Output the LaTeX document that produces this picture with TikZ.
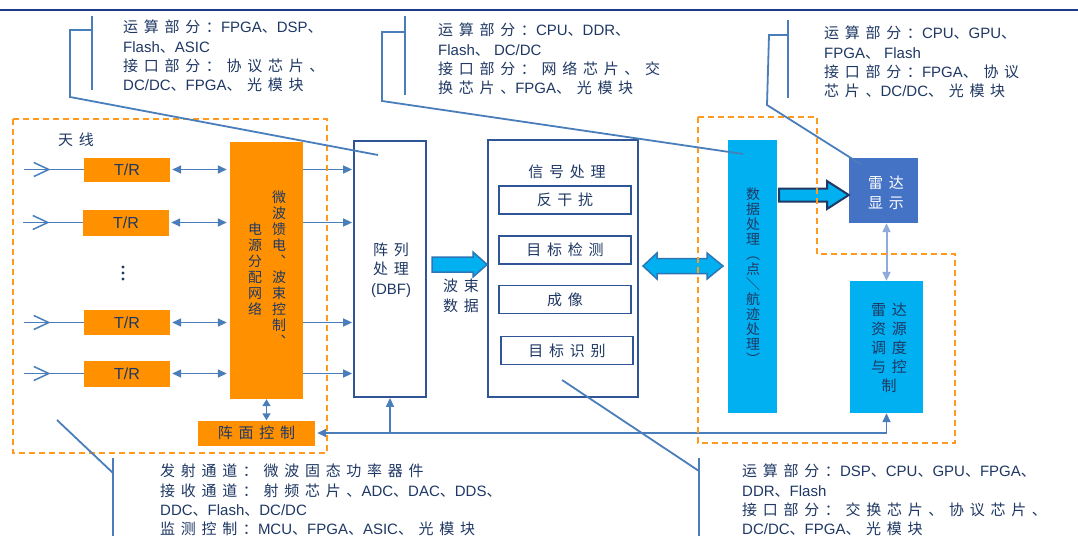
\documentclass[tikz,border=0pt]{standalone}
\usepackage{fontspec}
\setmainfont{Liberation Sans}
\newfontfamily\cjk{Noto Sans CJK SC}[Scale=1.0,LetterSpace=38]
\newfontfamily\cjkv{Noto Sans CJK SC}[Scale=0.93]
\newcommand\C[1]{{\cjk #1}}
\usetikzlibrary{arrows.meta,calc}
\definecolor{org}{HTML}{FF9000}
\definecolor{dorg}{HTML}{FF9A1F}
\definecolor{lblue}{HTML}{4A7EBB}
\definecolor{bord}{HTML}{2F5597}
\definecolor{cyanf}{HTML}{00B0F0}
\definecolor{dispf}{HTML}{4472C4}
\definecolor{txt}{HTML}{1F3864}
\definecolor{topline}{HTML}{1F3A8A}
\definecolor{pale}{HTML}{8FAADC}
\definecolor{arrb}{HTML}{2E75B6}
\definecolor{navy}{HTML}{203864}
\begin{document}
\begin{tikzpicture}[x=1pt,y=-1pt,>={Triangle[length=9pt,width=8pt]},
  conn/.style={draw=lblue,line width=1.5pt},
  callout/.style={draw=lblue,line width=1.8pt},
  orgbox/.style={fill=org,inner sep=0pt,text=txt},
  bluebox/.style={draw=bord,line width=1.8pt,fill=white,inner sep=0pt},
  subbox/.style={draw=bord,line width=1.5pt,minimum width=132pt,minimum height=28pt,inner sep=0pt,text=txt,font=\fontsize{15}{19}\selectfont},
  dashbox/.style={draw=dorg,line width=1.8pt,dash pattern=on 6pt off 4pt},
  ctext/.style={align=left,anchor=north west,inner sep=0pt,text=txt,font=\fontsize{15}{19.2}\selectfont},
  vtext/.style={align=center,inner sep=0pt,text=txt,font=\cjkv\fontsize{15}{16}\selectfont},
  btext/.style={align=center,inner sep=0pt,text=txt,font=\fontsize{15}{19.5}\selectfont},
  blockarrow/.style={fill=cyanf,draw=arrb,line width=1.5pt,line join=miter},
  dot/.style={circle,fill=txt,inner sep=0pt,minimum size=3.2pt}
]
\useasboundingbox (0,0) rectangle (1078,536);
\fill[white] (0,0) rectangle (1078,536);
\draw[draw=topline,line width=1.5pt] (0,10) -- (1078,10);

% ---------- left antenna part ----------
\node[btext] (ant) at (76,140) {\C{天线}};
\node[orgbox,minimum width=86pt,minimum height=24pt,font=\fontsize{16}{16}\selectfont] (tr1) at (127,169.5) {T/R};
\node[orgbox,minimum width=86pt,minimum height=26pt,font=\fontsize{16}{16}\selectfont] (tr2) at (126,222.5) {T/R};
\node[orgbox,minimum width=86pt,minimum height=25pt,font=\fontsize{16}{16}\selectfont] (tr3) at (127,322.5) {T/R};
\node[orgbox,minimum width=86pt,minimum height=26pt,font=\fontsize{16}{16}\selectfont] (tr4) at (127,373.5) {T/R};
\node[dot] (d1) at (123,267) {};
\node[dot] (d2) at (123,273) {};
\node[dot] (d3) at (123,279) {};

\node[orgbox,minimum width=73pt,minimum height=257pt] (feed) at (266.5,270.5) {};
\node[vtext] (feedR) at (279,269) {微\\波\\馈\\电\\︑\\波\\束\\控\\制\\︑};
\node[vtext] (feedL) at (255,269) {电\\源\\分\\配\\网\\络};

\node[orgbox,minimum width=117pt,minimum height=25pt,font=\fontsize{15}{15}\selectfont] (ctrl) at (256.5,433) {\C{阵面控制}};

\foreach \i in {1,2,3,4}{
  \coordinate (a\i) at ($(tr\i.west)+(-60,0)$);
  \draw[conn] (a\i) -- (tr\i.west);
  \draw[conn] ($(a\i)+(10,-7)$) -- ($(a\i)+(25,0)$) -- ($(a\i)+(10,7)$);
  \draw[conn,<->,shorten <=2pt,shorten >=3pt] (tr\i.east) -- (tr\i.east -| feed.west);
}

% ---------- DBF ----------
\node[bluebox,minimum width=72pt,minimum height=256pt] (dbf) at (390,269) {};
\node[btext] (dbft) at (391,270) {\C{阵列}\\\C{处理}\\(DBF)};
\foreach \i in {1,2,3,4}{
  \draw[conn,->,shorten >=1pt] (feed.east |- tr\i.east) -- (dbf.west |- tr\i.east);
}
\draw[conn,<->,>={Triangle[length=7pt,width=8pt]}] (feed.south) -- (feed.south |- ctrl.north);

% ---------- signal processing ----------
\node[bluebox,minimum width=150pt,minimum height=257pt] (sig) at (563,268.5) {};
\node[btext] (sigt) at (567,172) {\C{信号处理}};
\node[subbox] (s1) at (565,200) {\C{反干扰}};
\node[subbox] (s2) at (565,250) {\C{目标检测}};
\node[subbox] (s3) at (565,299.5) {\C{成像}};
\node[subbox] (s4) at (567,350.5) {\C{目标识别}};

\node[btext] (beam) at (461,296) {\C{波束}\\\C{数据}};
\draw[blockarrow] (432,257) -- (473,257) -- (473,252) -- (sig.west |- 0,264.5) -- (473,277) -- (473,272) -- (432,272) -- cycle;

% ---------- data processing ----------
\node[fill=cyanf,minimum width=49pt,minimum height=273pt,inner sep=0pt] (data) at (752.5,276.5) {};
\node[vtext,font=\cjkv\fontsize{15}{15}\selectfont] (datat) at (753,276) {数\\据\\处\\理\\︵\\点\\＼\\航\\迹\\处\\理\\︶};

\draw[blockarrow] (643,266) -- (657,253) -- (657,258.5) -- (707,258.5) -- (707,253) -- (723,266) -- (707,279) -- (707,273.5) -- (657,273.5) -- (657,279) -- cycle;

% ---------- display & resources ----------
\node[fill=dispf,minimum width=69pt,minimum height=65pt,inner sep=0pt] (dsp) at (883.5,190.5) {};
\node[btext,text=white,font=\fontsize{15}{20}\selectfont] (dspt) at (886,193) {\C{雷达}\\\C{显示}};
\node[fill=cyanf,minimum width=73pt,minimum height=132pt,inner sep=0pt] (res) at (886.5,347) {};
\node[btext,font=\fontsize{15}{19}\selectfont] (rest) at (889,348) {\C{雷达}\\\C{资源}\\\C{调度}\\\C{与控}\\\C{制}};

\draw[blockarrow,draw=navy,line width=2pt] (779,188.5) -- (827,188.5) -- (827,181) -- (dsp.west |- 0,195) -- (827,209) -- (827,201.5) -- (779,201.5) -- cycle;
\draw[draw=pale,line width=2pt,<->] (res.north |- dsp.south) -- (res.north);

% ---------- control line ----------
\draw[conn,<->,shorten <=2pt] (ctrl.east) -- (res.south |- ctrl.east) -- (res.south);
\draw[conn,->] (dbf.south |- ctrl.east) -- (dbf.south);

% ---------- dashed groups ----------
\draw[dashbox] (13,119) rectangle (327,453);
\draw[dashbox] (698,117) -- (817,117) -- (817,254) -- (955,254) -- (955,443) -- (698,443) -- cycle;

% ---------- callouts ----------
\draw[callout] (92,16) -- (92,90);
\draw[callout] (92,30) -- (70,30) -- (70,97) -- (378,155);
\node[ctext] (c1) at (123,20) {\C{运算部分：}FPGA\C{、}DSP\C{、}\\Flash\C{、}ASIC\\\C{接口部分：协议芯片、}\\DC/DC\C{、}FPGA\C{、光模块}};

\draw[callout] (405,16) -- (405,95);
\draw[callout] (405,32) -- (382,32) -- (382,101) -- (743,154);
\node[ctext] (c2) at (438,23) {\C{运算部分：}CPU\C{、}DDR\C{、}\\Flash\C{、} DC/DC\\\C{接口部分：网络芯片、交}\\\C{换芯片、}FPGA\C{、光模块}};

\draw[callout] (788,20) -- (788,98);
\draw[callout] (788,35) -- (769,35) -- (767,105) -- (862,165);
\node[ctext] (c3) at (824,26) {\C{运算部分：}CPU\C{、}GPU\C{、}\\FPGA\C{、} Flash\\\C{接口部分：}FPGA\C{、协议}\\\C{芯片、}DC/DC\C{、光模块}};

\draw[callout] (113,458) -- (113,536);
\draw[callout] (57,420) -- (113,473);
\node[ctext] (c4) at (160,464) {\C{发射通道：微波固态功率器件}\\\C{接收通道：射频芯片、}ADC\C{、}DAC\C{、}DDS\C{、}\\DDC\C{、}Flash\C{、}DC/DC\\\C{监测控制：}MCU\C{、}FPGA\C{、}ASIC\C{、光模块}};

\draw[callout] (699,458) -- (699,536);
\draw[callout] (562,380) -- (699,471);
\node[ctext] (c5) at (742,464) {\C{运算部分：}DSP\C{、}CPU\C{、}GPU\C{、}FPGA\C{、}\\DDR\C{、}Flash\\\C{接口部分：交换芯片、协议芯片、}\\DC/DC\C{、}FPGA\C{、光模块}};
\end{tikzpicture}
\end{document}
